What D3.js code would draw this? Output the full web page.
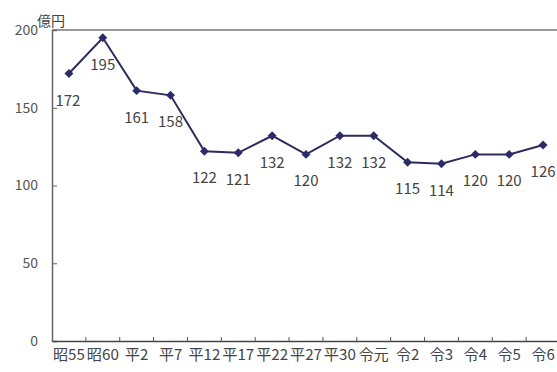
<!DOCTYPE html>
<html>
<head>
    <meta charset="utf-8">
    <script src="https://d3js.org/d3.v7.min.js"></script>
    <style>
        body { margin: 0; background: #fff; }
        text { font-family: "Noto Sans CJK JP", "Noto Sans", sans-serif; fill: #444; }
    </style>
</head>
<body>
<div id="chart"></div>
<script>
    // data
    var years = ["昭55", "昭60", "平2", "平7", "平12", "平17", "平22", "平27", "平30", "令元", "令2", "令3", "令4", "令5", "令6"]
    var values = [172, 195, 161, 158, 122, 121, 132, 120, 132, 132, 115, 114, 120, 120, 126]
    var yTicks = [0, 50, 100, 150, 200]

    const W = 557, H = 372
    const margin = { top: 30, right: -3, bottom: 31, left: 52 },
        width = W - margin.left - margin.right,
        height = H - margin.top - margin.bottom

    const svg = d3.select("#chart").append("svg")
        .attr("width", W).attr("height", H)
    const g = svg.append("g")
        .attr("transform", `translate(${margin.left},${margin.top})`)

    const x = d3.scaleBand().domain(years).range([0, width])
    const y = d3.scaleLinear().domain([0, 200]).range([height, 0])

    // top border
    g.append("line")
        .attr("x1", 0).attr("x2", width)
        .attr("y1", 0).attr("y2", 0)
        .attr("stroke", "#777").attr("stroke-width", 1.5)

    // y axis, ticks point inward
    const yAxis = g.append("g")
        .call(d3.axisLeft(y).tickValues(yTicks).tickSize(-5).tickPadding(14))
    yAxis.select(".domain").attr("stroke", "#666").attr("stroke-width", 1.5)
    yAxis.selectAll(".tick line").attr("stroke", "#666")
    yAxis.selectAll("text").style("font-size", "14px").style("fill", "#555")

    // x axis, ticks on band boundaries
    const xAxis = g.append("g")
        .attr("transform", `translate(0,${height})`)
        .call(d3.axisBottom(x).tickSize(0).tickPadding(8))
    xAxis.select(".domain").attr("stroke", "#444").attr("stroke-width", 1.5)
    xAxis.selectAll("text").style("font-size", "15px").style("fill", "#444")
        .attr("textLength", d => d.length > 2 ? 32 : null)
        .attr("lengthAdjust", "spacingAndGlyphs")
    g.append("g").selectAll("line")
        .data(years.slice(1))
        .join("line")
        .attr("x1", d => x(d)).attr("x2", d => x(d))
        .attr("y1", height).attr("y2", height - 4)
        .attr("stroke", "#555")

    // unit
    svg.append("text")
        .attr("x", 37).attr("y", 26)
        .style("font-size", "14px")
        .text("億円")

    // line + markers
    const cx = (d, i) => x(years[i]) + x.bandwidth() / 2
    g.append("path")
        .datum(values)
        .attr("fill", "none")
        .attr("stroke", "#2c2b5c")
        .attr("stroke-width", 2)
        .attr("d", d3.line().x(cx).y(d => y(d)))

    g.selectAll("path.pt")
        .data(values)
        .join("path")
        .attr("class", "pt")
        .attr("d", d3.symbol(d3.symbolSquare, 40))
        .attr("transform", (d, i) => `translate(${cx(d, i)},${y(d)}) rotate(45)`)
        .attr("fill", "#2c2b6a")

    // value labels
    g.selectAll("text.val")
        .data(values)
        .join("text")
        .attr("class", "val")
        .attr("text-anchor", "middle")
        .attr("x", (d, i) => cx(d, i) - (i == 0 ? 1 : 0))
        .attr("y", d => y(d) + 32)
        .style("font-size", "15px")
        .style("fill", "#444")
        .text(d => d)
</script>
</body>
</html>
